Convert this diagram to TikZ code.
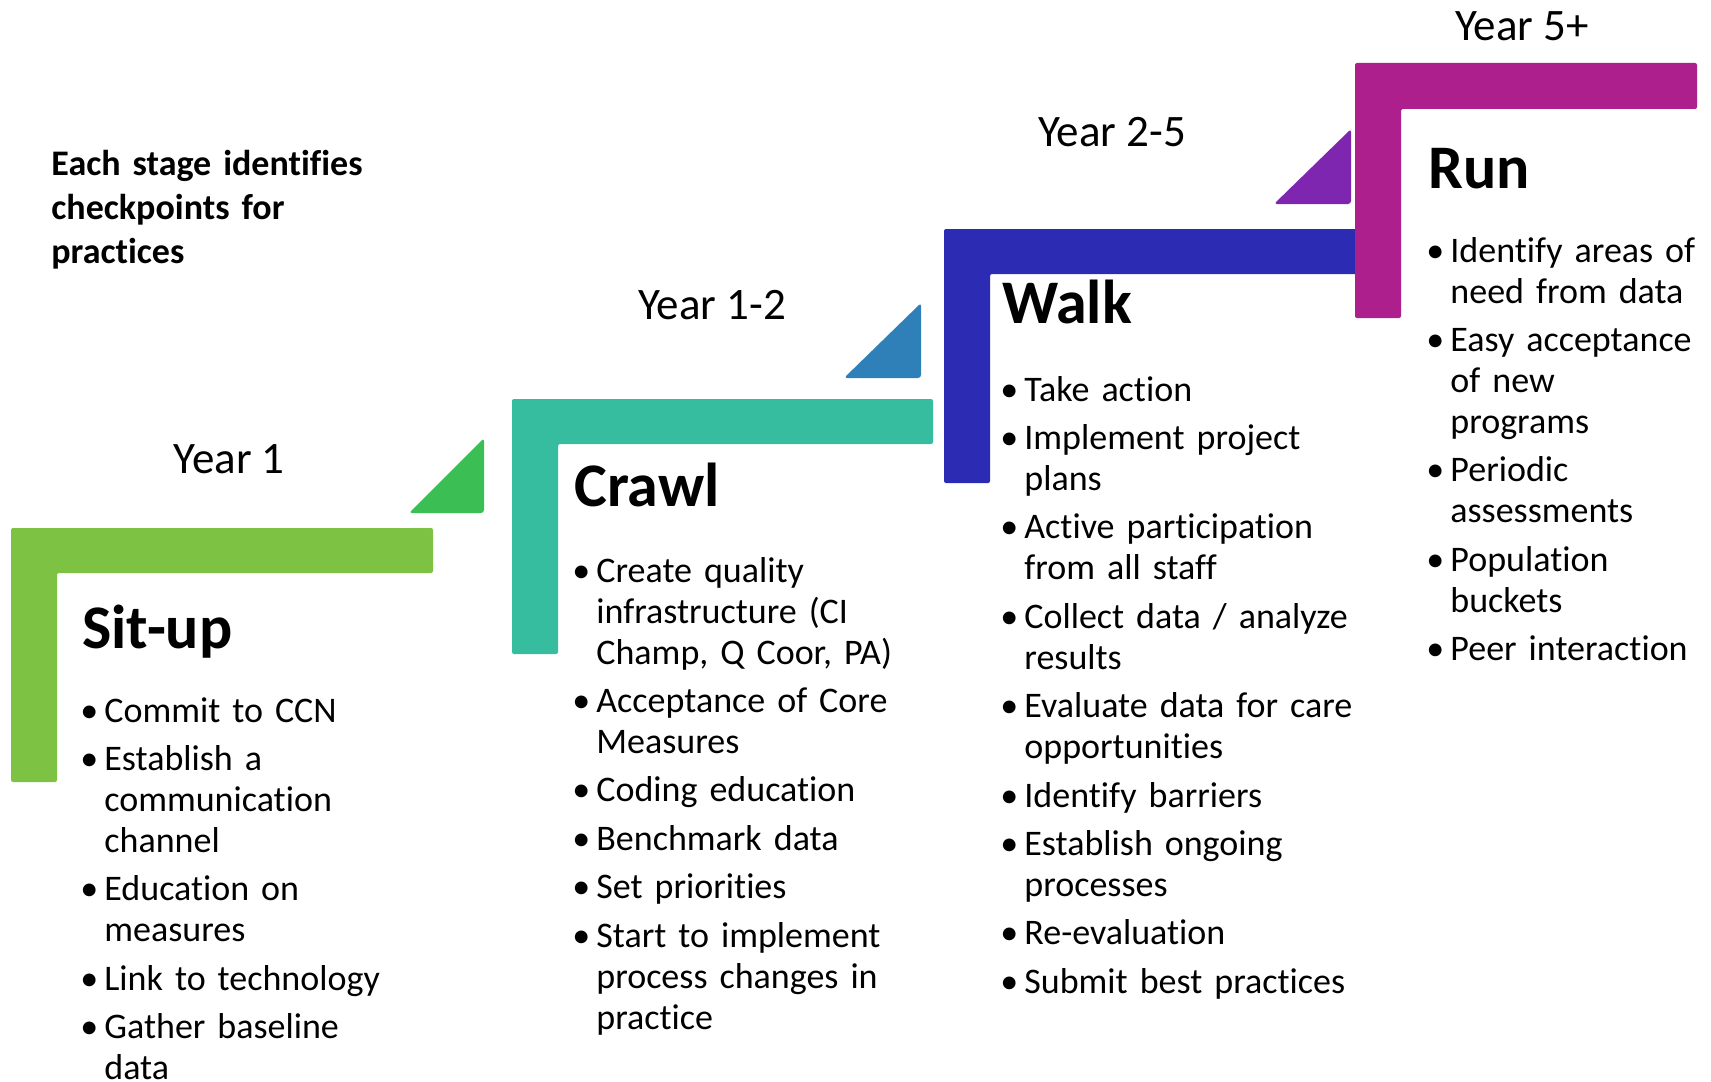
\documentclass[tikz,border=0pt]{standalone}
\usepackage{fontspec}
\setmainfont{Carlito}[Ligatures=NoCommon]
\setlength\parindent{0pt}

\definecolor{situpgreen}{HTML}{7DC242}
\definecolor{situpwedge}{HTML}{3BBF55}
\definecolor{crawlteal}{HTML}{36BC9F}
\definecolor{crawlwedge}{HTML}{2F80B9}
\definecolor{walkblue}{HTML}{2C2BB3}
\definecolor{walkwedge}{HTML}{7E26B0}
\definecolor{runmagenta}{HTML}{AE1F8E}

\newcommand\bul{\leavevmode\llap{\textbullet\hspace{3pt}}}

\begin{document}
\begin{tikzpicture}[x=0.5pt,y=-0.5pt,
  stagebar/.style={line join=round,rounded corners=1pt},
  wedge/.style={rounded corners=1.5pt},
  yearlbl/.style={inner sep=0pt,anchor=base,font=\fontsize{22.5}{27}\selectfont},
  stagettl/.style={inner sep=0pt,anchor=base west,font=\fontsize{31}{36}\selectfont\bfseries},
  pointlist/.style={inner sep=0pt,anchor=base west,text width=200pt,align=left,
    font=\fontsize{18}{20.5}\selectfont}]

\useasboundingbox (0,0) rectangle (1711,1081);

% the four steps
\fill [situpgreen,stagebar] (11,528)--(433,528)--(433,573)--(57,573)--(57,782)--(11,782)--cycle;
\fill [situpwedge,wedge] (409,513)--(484,438)--(484,513)--cycle;

\fill [crawlteal,stagebar] (512,399)--(933,399)--(933,444)--(558,444)--(558,654)--(512,654)--cycle;
\fill [crawlwedge,wedge] (844,378)--(921,303)--(921,378)--cycle;

\fill [walkblue,stagebar] (944,229)--(1357,229)--(1357,274)--(990,274)--(990,483)--(944,483)--cycle;
\fill [walkwedge,wedge] (1274,204)--(1351,129)--(1351,204)--cycle;

\fill [runmagenta,stagebar] (1355,63)--(1697,63)--(1697,109)--(1401,109)--(1401,318)--(1355,318)--cycle;

\node [inner sep=0pt,anchor=base west,text width=200pt,align=left,
  font=\fontsize{18}{22}\selectfont\bfseries] (note) at (51,175)
  {Each stage identifies\\ checkpoints for\\ practices};

\node [yearlbl] (year1) at (229,473) {Year 1};
\node [yearlbl] (year12) at (712,319) {Year 1-2};
\node [yearlbl] (year25) at (1112,147) {Year 2-5};
\node [yearlbl] (year5) at (1522,41) {Year 5+};

\node [stagettl] (situp) at (82,648) {Sit-up};
\node [stagettl] (crawl) at (574,506) {Crawl};
\node [stagettl] (walk) at (1002,323) {Walk};
\node [stagettl] (run) at (1428,188) {Run};

\node [pointlist] (situplist) at (104,722)
  {\bul Commit to CCN\\[3.7pt]
   \bul Establish a\\ communication\\ channel\\[3.7pt]
   \bul Education on\\ measures\\[3.7pt]
   \bul Link to technology\\[3.7pt]
   \bul Gather baseline\\ data};

\node [pointlist] (crawllist) at (596,582)
  {\bul Create quality\\ infrastructure (CI\\ Champ, Q Coor, PA)\\[3.7pt]
   \bul Acceptance of Core\\ Measures\\[3.7pt]
   \bul Coding education\\[3.7pt]
   \bul Benchmark data\\[3.7pt]
   \bul Set priorities\\[3.7pt]
   \bul Start to implement\\ process changes in\\ practice};

\node [pointlist] (walklist) at (1024,401)
  {\bul Take action\\[3.7pt]
   \bul Implement project\\ plans\\[3.7pt]
   \bul Active participation\\ from all staff\\[3.7pt]
   \bul Collect data / analyze\\ results\\[3.7pt]
   \bul Evaluate data for care\\ opportunities\\[3.7pt]
   \bul Identify barriers\\[3.7pt]
   \bul Establish ongoing\\ processes\\[3.7pt]
   \bul Re-evaluation\\[3.7pt]
   \bul Submit best practices};

\node [pointlist] (runlist) at (1450,262)
  {\bul Identify areas of\\ need from data\\[3.7pt]
   \bul Easy acceptance\\ of new\\ programs\\[3.7pt]
   \bul Periodic\\ assessments\\[3.7pt]
   \bul Population\\ buckets\\[3.7pt]
   \bul Peer interaction};

\end{tikzpicture}
\end{document}
